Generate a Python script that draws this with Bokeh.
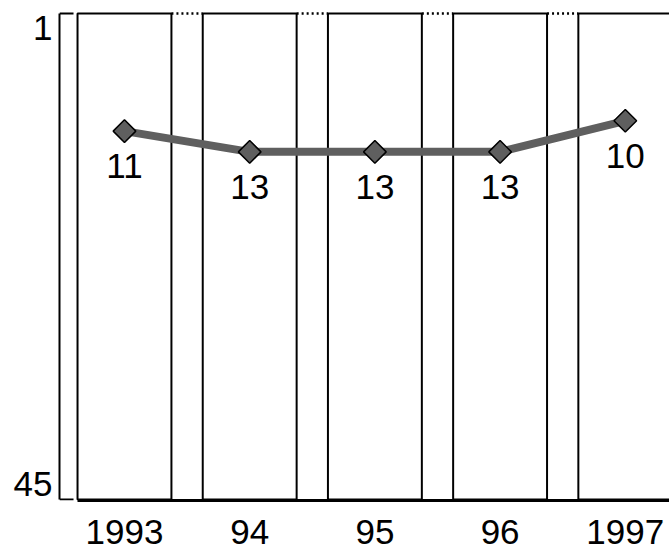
import math
from bokeh.plotting import figure
from bokeh.models import Range1d, FixedTicker, ColumnDataSource
from bokeh.embed import file_html
from bokeh.resources import INLINE
from bokeh.core.properties import value

# ---- data ----
years = ["1993", "94", "95", "96", "1997"]
ranks = [11, 13, 13, 13, 10]
rank_labels = ["11", "13", "13", "13", "10"]
rank_ticks = [1, 45]
rank_tick_labels = ["1", "45"]
xpos = list(range(len(years)))

# ---- layout constants ----
FONT = "Liberation Sans"
FS = "35px"
BOX_HALF = 0.375
BRACKET_TOP = -0.35
BRACKET_BOTTOM = 46.54
X_START, X_END = -0.519, 4.353
Y_TOP, Y_BOTTOM = -0.544, 46.64
ARM = 0.112

p = figure(width=669, height=556,
           x_range=Range1d(X_START, X_END), y_range=Range1d(Y_BOTTOM, Y_TOP),
           output_backend="svg", toolbar_location=None,
           min_border_left=59, min_border_right=0, min_border_top=11, min_border_bottom=56)
p.outline_line_color = None
p.grid.visible = False
p.background_fill_color = "white"
p.border_fill_color = "white"

# year boxes
boxes = ColumnDataSource(dict(left=[i - BOX_HALF for i in xpos],
                              right=[i + BOX_HALF for i in xpos]))
p.quad(left="left", right="right", top=BRACKET_TOP, bottom=BRACKET_BOTTOM, source=boxes,
       fill_color="white", line_color="black", line_width=2)

# dotted connectors between box tops
p.segment(x0=[i + BOX_HALF for i in xpos[:-1]], x1=[i + 1 - BOX_HALF for i in xpos[:-1]],
          y0=BRACKET_TOP, y1=BRACKET_TOP, line_color="black", line_width=2.5, line_dash="2 3")

# bracket arms of the rank axis
p.segment(x0=[X_START, X_START], x1=[X_START + ARM, X_START + ARM],
          y0=[BRACKET_TOP, BRACKET_BOTTOM], y1=[BRACKET_TOP, BRACKET_BOTTOM],
          line_color="black", line_width=2)

# rank line
src = ColumnDataSource(dict(x=xpos, y=ranks, lab=rank_labels))
p.line("x", "y", source=src, line_color="#5f5f5f", line_width=8)
p.scatter("x", "y", source=src, marker="square", size=16, angle=math.pi / 4,
          fill_color="#5f5f5f", line_color="black", line_width=1.5)
p.text("x", "y", text="lab", source=src, y_offset=35, text_align="center",
       text_baseline="middle", text_font=value(FONT), text_font_size=FS,
       text_color="black")

# y axis
ya = p.yaxis[0]
ya.ticker = FixedTicker(ticks=rank_ticks)
ya.major_label_overrides = {t: l for t, l in zip(rank_ticks, rank_tick_labels)}
ya.bounds = (BRACKET_TOP, BRACKET_BOTTOM)
ya.axis_line_width = 2
ya.axis_line_color = "black"
ya.major_tick_in = 0
ya.major_tick_out = 0
ya.minor_tick_in = 0
ya.minor_tick_out = 0
ya.major_label_standoff = 7
ya.major_label_text_font = FONT
ya.major_label_text_font_size = FS
ya.major_label_text_color = "black"

# x axis
xa = p.xaxis[0]
xa.ticker = FixedTicker(ticks=xpos)
xa.major_label_overrides = {i: y for i, y in zip(xpos, years)}
xa.bounds = (-BOX_HALF, X_END)
xa.axis_line_width = 3
xa.axis_line_color = "black"
xa.major_tick_in = 0
xa.major_tick_out = 0
xa.minor_tick_in = 0
xa.minor_tick_out = 0
xa.major_label_standoff = 19
xa.major_label_text_font = FONT
xa.major_label_text_font_size = FS
xa.major_label_text_color = "black"

open("out.html", "w").write(file_html(p, INLINE))
